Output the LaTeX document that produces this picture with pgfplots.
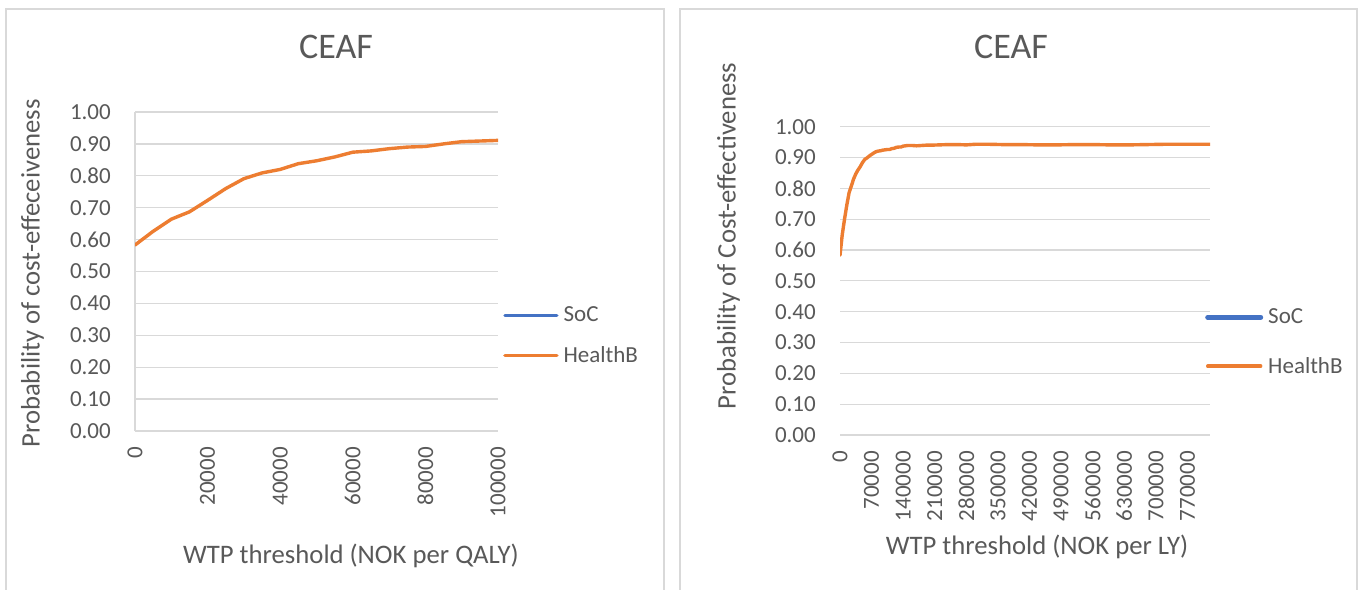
\documentclass[border=0pt]{standalone}
\usepackage{fontspec}
\setmainfont{Carlito}
\usepackage{pgfplots}
\pgfplotsset{compat=1.18}
\definecolor{cOrange}{HTML}{ED7D31}
\definecolor{cBlue}{HTML}{4472C4}
\definecolor{cGrid}{HTML}{D9D9D9}
\definecolor{cText}{HTML}{595959}
\definecolor{cBorder}{HTML}{D9D9D9}

\pgfplotsset{
  ceaf/.style={
    scale only axis,
    ymin=0, ymax=1,
    ytick={0,0.1,0.2,0.3,0.4,0.5,0.6,0.7,0.8,0.9,1.0},
    ymajorgrids,
    grid style={cGrid, line width=1.3pt},
    axis x line*=bottom, axis y line*=left,
    x axis line style={cGrid, line width=1.3pt, -},
    major tick length=0pt,
    tick style={draw=none},
    ticklabel style={font=\fontsize{23}{27}\selectfont, text=cText},
    /pgf/number format/assume math mode=true,
    yticklabel style={/pgf/number format/.cd, fixed, fixed zerofill, precision=2, /tikz/.cd, inner sep=0pt},
    yticklabel shift=24pt,
    xticklabel style={rotate=90, anchor=east, inner sep=0pt, /pgf/number format/.cd, fixed, 1000 sep={}},
    xticklabel shift=16pt,
    scaled x ticks=false,
    label style={font=\fontsize{26.7}{30}\selectfont, text=cText},
    title style={font=\fontsize{36}{40}\selectfont, text=cText, anchor=center},
    legend style={draw=none, fill=none, inner sep=0pt, font=\fontsize{23}{27}\selectfont, text=cText,
      nodes={inner sep=0pt}, column sep=5pt},
    legend cell align=left,
  }
}

\pgfplotstableread{
x y
0 0.583
5000 0.626
10000 0.664
15000 0.687
20000 0.723
25000 0.760
30000 0.791
35000 0.809
40000 0.820
45000 0.838
50000 0.847
55000 0.859
60000 0.874
65000 0.878
70000 0.885
75000 0.890
80000 0.892
85000 0.900
90000 0.907
95000 0.909
100000 0.911
}\qaly

\pgfplotstableread{
x y
0 0.583
5000 0.650
10000 0.700
15000 0.745
20000 0.785
25000 0.807
30000 0.830
35000 0.847
40000 0.860
45000 0.871
50000 0.884
55000 0.894
60000 0.899
65000 0.905
70000 0.910
75000 0.915
80000 0.919
85000 0.921
90000 0.922
95000 0.924
100000 0.925
105000 0.926
110000 0.926
115000 0.929
120000 0.930
125000 0.933
130000 0.934
135000 0.934
140000 0.937
145000 0.938
150000 0.939
160000 0.939
170000 0.938
180000 0.939
190000 0.940
200000 0.940
220000 0.941
240000 0.942
260000 0.942
280000 0.941
300000 0.943
330000 0.943
360000 0.942
400000 0.942
440000 0.941
480000 0.941
520000 0.942
560000 0.942
600000 0.941
640000 0.941
680000 0.942
720000 0.943
760000 0.943
820000 0.943
}\ly

\begin{document}
\begin{tikzpicture}
\useasboundingbox (0pt,0pt) rectangle (1359pt,589pt);
\fill[white] (0pt,0pt) rectangle (1359pt,589pt);
\draw[cBorder, line width=1.5pt] (6pt,-20pt) rectangle (664pt,580pt);
\draw[cBorder, line width=1.5pt] (680pt,-20pt) rectangle (1357pt,580pt);

\begin{axis}[ceaf,
  at={(135pt,158pt)}, anchor=south west,
  width=363pt, height=319pt,
  xmin=0, xmax=100000,
  xtick={0,20000,40000,60000,80000,100000},
  y axis line style={cGrid, line width=1.3pt, -},
  title={CEAF}, title style={at={(axis description cs:0.5537,1.1862)}},
  ylabel={Probability of cost-effeceiveness},
  ylabel style={at={(axis description cs:-0.2824,0.4937)}, anchor=center},
  xlabel={WTP threshold (NOK per QALY)},
  xlabel style={at={(axis description cs:0.595,-0.3906)}, anchor=center},
  legend style={at={(axis description cs:1.0138,0.2994)}, anchor=west, row sep=23pt},
  legend image code/.code={\draw[#1] (0pt,0pt) -- (52pt,0pt);},
]
\addlegendimage{cBlue, line width=3.2pt, line cap=round}
\addlegendentry{SoC}
\addplot[cOrange, line width=3.4pt, line join=round, line cap=round] table[x=x,y=y]{\qaly};
\addlegendentry{HealthB}
\end{axis}

\begin{axis}[ceaf,
  at={(840pt,154pt)}, anchor=south west,
  width=370pt, height=308.3pt,
  xmin=0, xmax=820000,
  xtick={0,70000,140000,210000,280000,350000,420000,490000,560000,630000,700000,770000},
  y axis line style={draw=none},
  title={CEAF}, title style={at={(axis description cs:0.4622,1.2403)}},
  ylabel={Probability of Cost-effectiveness},
  ylabel style={at={(axis description cs:-0.3014,0.6455)}, anchor=center},
  xlabel={WTP threshold (NOK per LY)},
  xlabel style={at={(axis description cs:0.5324,-0.3633)}, anchor=center},
  legend style={at={(axis description cs:0.9865,0.3017)}, anchor=west, row sep=32pt},
  legend image code/.code={\draw[#1] (0pt,0pt) -- (53pt,0pt);},
]
\addlegendimage{cBlue, line width=5pt, line cap=round}
\addlegendentry{SoC}
\addplot[cOrange, line width=3.4pt, line join=round, line cap=round] table[x=x,y=y]{\ly};
\addlegendentry{HealthB}
\end{axis}
\end{tikzpicture}
\end{document}
